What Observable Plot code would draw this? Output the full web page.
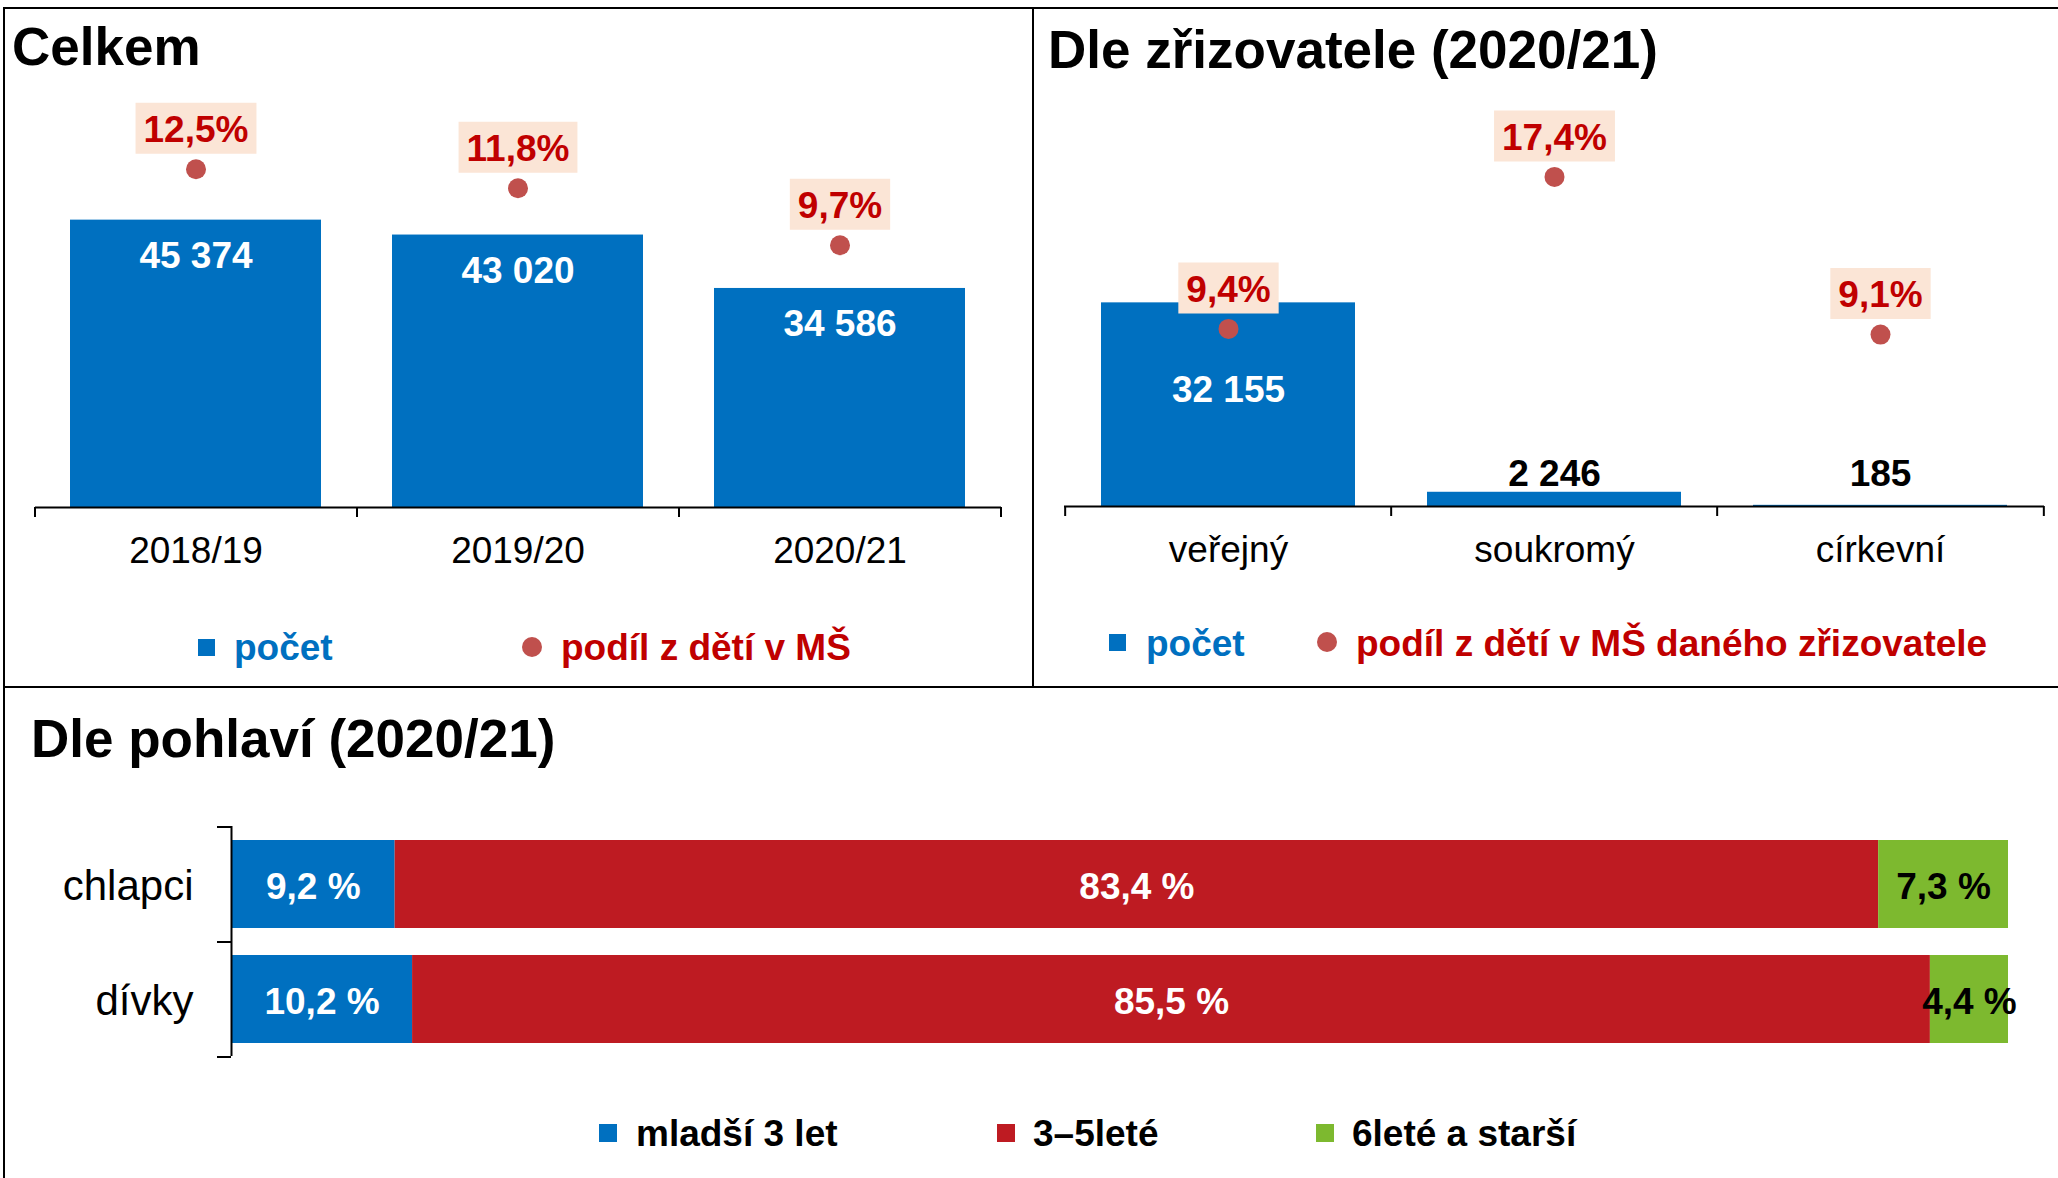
<!DOCTYPE html>
<html><head><meta charset="utf-8">
<script src="https://cdn.jsdelivr.net/npm/d3@7"></script>
<script src="https://cdn.jsdelivr.net/npm/@observablehq/plot@0.6"></script>
<style>
body{margin:0;background:#fff;}
#root{position:relative;width:2058px;height:1178px;overflow:hidden;font-family:"Liberation Sans",Arial,sans-serif;background:#fff;}
.pl{position:absolute;}
.t{position:absolute;white-space:nowrap;font-weight:bold;line-height:1;font-size:37px;}
.ttl{position:absolute;white-space:nowrap;font-weight:bold;line-height:1;font-size:53px;color:#000;}
.ln{position:absolute;background:#000;}
.sq{position:absolute;}
.dt{position:absolute;border-radius:50%;background:#c0504d;}
</style></head><body><div id="root"></div>
<script>
// ---- data ----
const years = ["2018/19", "2019/20", "2020/21"];
const totalCounts = [45374, 43020, 34586];
const totalShares = [12.5, 11.8, 9.7];

const founders = ["veřejný", "soukromý", "církevní"];
const founderCounts = [32155, 2246, 185];
const founderShares = [9.4, 17.4, 9.1];

const genders = ["chlapci", "dívky"];
const ageGroups = ["mladší 3 let", "3–5leté", "6leté a starší"];
const boysShares = [9.2, 83.4, 7.3];
const girlsShares = [10.2, 85.5, 4.4];

// ---- styles ----
const BLUE = "#0070c0", RED_BAR = "#be1b22", GREEN = "#7db92f";
const DOT = "#c0504d", LABEL_RED = "#c00000", BOX = "#fbe5d6";
const ageColors = [BLUE, RED_BAR, GREEN];
const FONT = "'Liberation Sans', Arial, sans-serif";
const COUNT_MAX = 60000;

const root = document.getElementById("root");
const cv = document.createElement("canvas").getContext("2d");
cv.font = "bold 37px " + FONT;
const textW = s => cv.measureText(s).width;
const fmtCount = v => d3.format(",")(v).replace(/,/g, " ");
const fmtShare = v => v.toFixed(1).replace(".", ",") + "%";
const fmtPct = v => v.toFixed(1).replace(".", ",") + " %";

function place(el, left, top) {
  el.classList.add("pl");
  el.style.left = left + "px";
  el.style.top = top + "px";
  root.appendChild(el);
}

function columnPanel(cats, counts, shares, shareMax, dims, insideDy, outsideDy) {
  const data = cats.map((c, i) => ({cat: c, count: counts[i], share: shares[i], shareY: shares[i] / shareMax * COUNT_MAX}));
  const step = (dims.width - dims.marginLeft - dims.marginRight) / cats.length;
  return Plot.plot({
    ...dims,
    style: {fontFamily: FONT, fontSize: "37px", background: "transparent", color: "#000"},
    x: {domain: cats, paddingInner: 0.22, paddingOuter: 0.11, axis: null},
    y: {domain: [0, COUNT_MAX], axis: null},
    marks: [
      Plot.barY(data, {x: "cat", y: "count", fill: BLUE}),
      Plot.ruleY([0], {stroke: "#000", strokeWidth: 2}),
      Plot.ruleX(data, {x: "cat", y1: 0, y2: 0, dx: -step / 2, insetBottom: -10, stroke: "#000", strokeWidth: 2}),
      Plot.ruleX(data.slice(-1), {x: "cat", y1: 0, y2: 0, dx: step / 2, insetBottom: -10, stroke: "#000", strokeWidth: 2}),
      Plot.text(data, {x: "cat", y: 0, text: "cat", lineAnchor: "top", dy: 29, fontSize: 37, fill: "#000"}),
      Plot.ruleX(data, {x: "cat", y1: "shareY", y2: "shareY", insetTop: -65, insetBottom: 14, stroke: BOX,
        strokeWidth: d => textW(fmtShare(d.share)) + 16}),
      Plot.dot(data, {x: "cat", y: "shareY", r: 10, fill: DOT, dy: 1}),
      Plot.text(data, {x: "cat", y: "shareY", text: d => fmtShare(d.share), dy: -38, fill: LABEL_RED, fontWeight: "bold", fontSize: 37}),
      Plot.text(data, {filter: d => d.count >= 10000, x: "cat", y: "count", text: d => fmtCount(d.count), dy: insideDy, fill: "#fff", fontWeight: "bold", fontSize: 37}),
      Plot.text(data, {filter: d => d.count < 10000, x: "cat", y: 0, text: d => fmtCount(d.count), dy: outsideDy, fill: "#000", fontWeight: "bold", fontSize: 37})
    ]
  });
}

// Panel 1: Celkem
place(columnPanel(years, totalCounts, totalShares, 14,
  {width: 1030, height: 680, marginLeft: 35, marginRight: 29, marginTop: 127, marginBottom: 173}, 36, -32), 0, 0);

// Panel 2: Dle zřizovatele
place(columnPanel(founders, founderCounts, founderShares, 20,
  {width: 1025, height: 680, marginLeft: 31, marginRight: 14, marginTop: 126, marginBottom: 174}, 87, -32), 1033, 0);

// Panel 3: Dle pohlaví
const genderData = [];
genders.forEach((g, gi) => ageGroups.forEach((a, ai) => genderData.push({
  gender: g, age: a, share: (gi ? girlsShares : boysShares)[ai],
  color: ageColors[ai], labelColor: ai === 2 ? "#000" : "#fff"
})));
{
  const dims = {width: 2058, height: 490, marginLeft: 231, marginRight: 50, marginTop: 138, marginBottom: 122};
  const step = (dims.height - dims.marginTop - dims.marginBottom) / genders.length;
  place(Plot.plot({
    ...dims,
    style: {fontFamily: FONT, fontSize: "37px", background: "transparent", color: "#000"},
    x: {domain: [0, 1], axis: null},
    y: {domain: genders, paddingInner: 0.235, paddingOuter: 0.1175, axis: null},
    color: {type: "identity"},
    marks: [
      Plot.barX(genderData, Plot.stackX({x: "share", y: "gender", z: "age", fill: "color", offset: "normalize"})),
      Plot.ruleX([0], {stroke: "#000", strokeWidth: 2}),
      Plot.ruleY(genders, {y: d => d, x1: 0, x2: 0, dy: -step / 2, insetLeft: -14, stroke: "#000", strokeWidth: 2}),
      Plot.ruleY(genders.slice(-1), {y: d => d, x1: 0, x2: 0, dy: step / 2, insetLeft: -14, stroke: "#000", strokeWidth: 2}),
      Plot.text(genders, {y: d => d, x: 0, text: d => d, textAnchor: "end", dx: -38, dy: 2, fontSize: 42, fill: "#000"}),
      Plot.text(genderData, Plot.stackX({x: "share", y: "gender", z: "age", offset: "normalize",
        text: d => fmtPct(d.share), fill: "labelColor", fontWeight: "bold", fontSize: 37, dy: 3}))
    ]
  }), 0, 688);
}

// ---- titles ----
function addText(cls, txt, left, top, color) {
  const d = document.createElement("div");
  d.className = cls; d.textContent = txt;
  d.style.left = left + "px"; d.style.top = top + "px";
  if (color) d.style.color = color;
  root.appendChild(d);
}
addText("ttl", "Celkem", 12, 20);
addText("ttl", "Dle zřizovatele (2020/21)", 1048, 23);
addText("ttl", "Dle pohlaví (2020/21)", 31, 712);

// ---- legends ----
function square(left, top, size, color) {
  const d = document.createElement("div");
  d.className = "sq";
  Object.assign(d.style, {left: left + "px", top: top + "px", width: size + "px", height: size + "px", background: color});
  root.appendChild(d);
}
function dot(cx, cy, r) {
  const d = document.createElement("div");
  d.className = "dt";
  Object.assign(d.style, {left: (cx - r) + "px", top: (cy - r) + "px", width: 2 * r + "px", height: 2 * r + "px"});
  root.appendChild(d);
}
square(198, 639, 17, BLUE);
addText("t", "počet", 234, 629, BLUE);
dot(532, 647, 10);
addText("t", "podíl z dětí v MŠ", 561, 629, LABEL_RED);

square(1109, 634, 17, BLUE);
addText("t", "počet", 1146, 625, BLUE);
dot(1327, 642, 10);
addText("t", "podíl z dětí v MŠ daného zřizovatele", 1356, 625, LABEL_RED);

const legendX = [[599, 636], [997, 1033], [1316, 1352]];
ageGroups.forEach((a, i) => {
  square(legendX[i][0], 1124, 18, ageColors[i]);
  addText("t", a, legendX[i][1], 1115, "#000");
});

// ---- frame lines ----
function line(left, top, w, h) {
  const d = document.createElement("div");
  d.className = "ln";
  Object.assign(d.style, {left: left + "px", top: top + "px", width: w + "px", height: h + "px"});
  root.appendChild(d);
}
line(3, 7, 2055, 2);
line(3, 7, 2, 1171);
line(1032, 7, 2, 680);
line(3, 686, 2055, 2);
</script>
</body></html>
